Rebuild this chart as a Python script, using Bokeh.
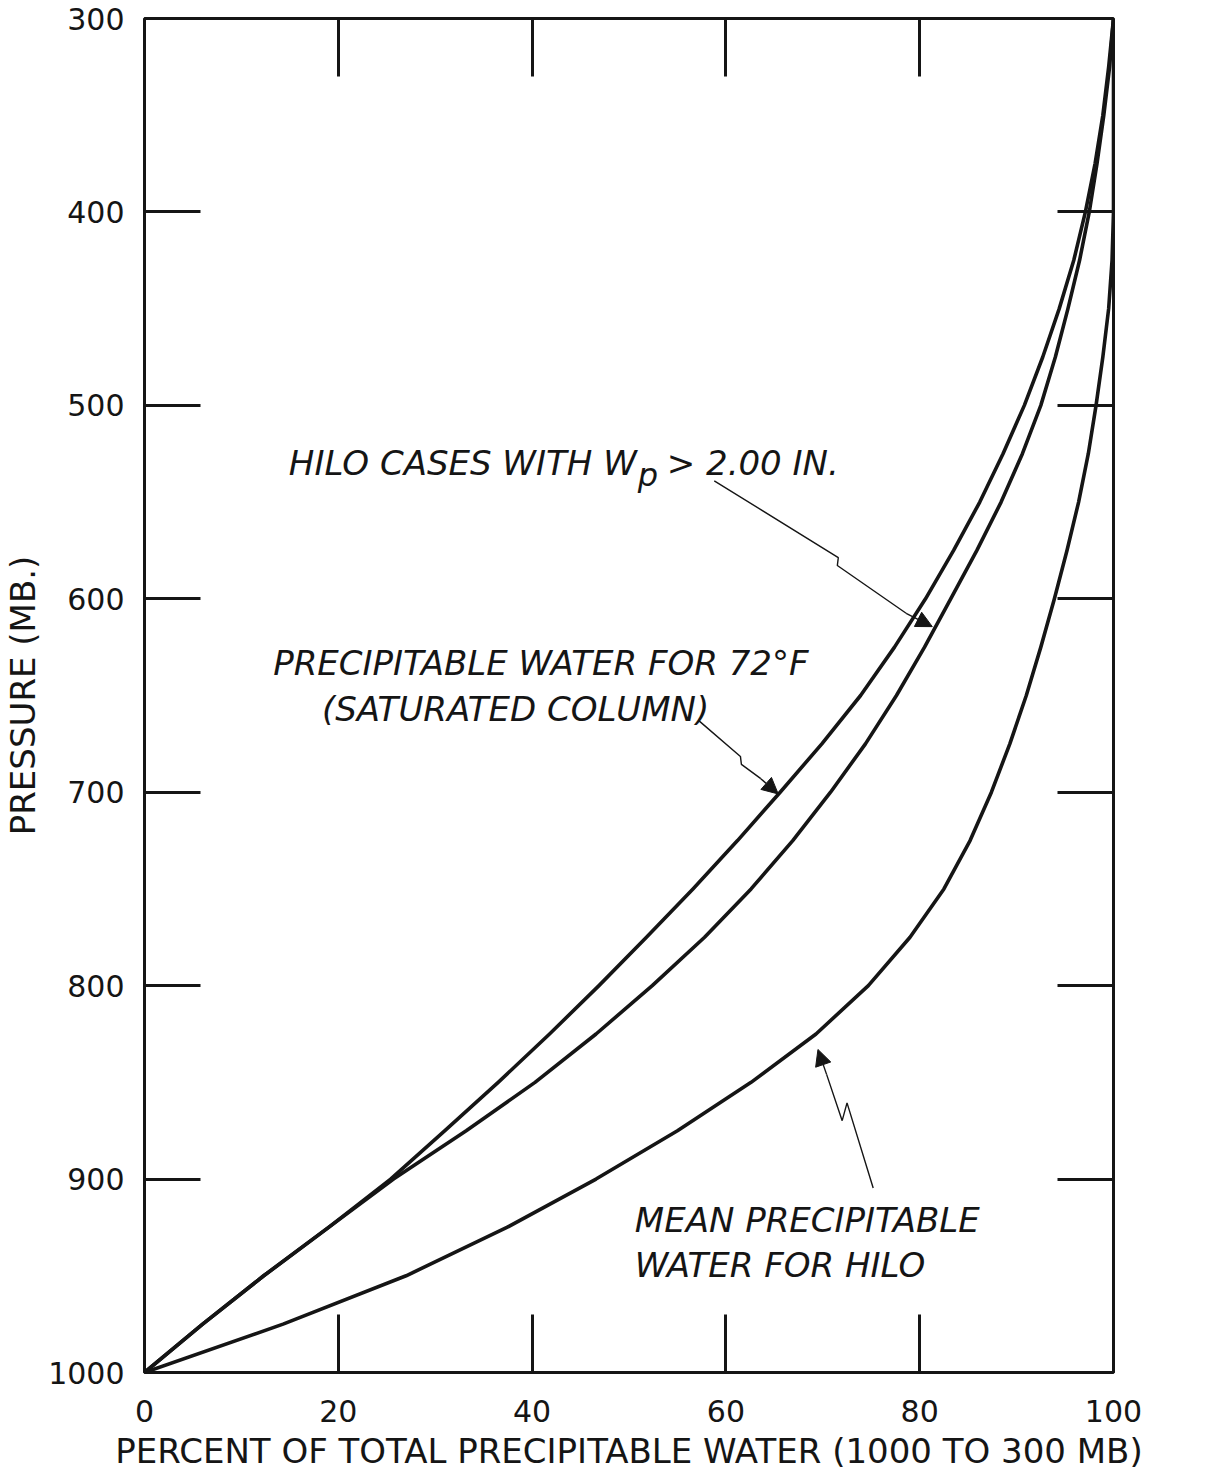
from bokeh.plotting import figure
from bokeh.models import (Range1d, LinearAxis, FixedTicker, CustomJSTickFormatter,
                          Label, Arrow, NormalHead)
from bokeh.embed import file_html
from bokeh.resources import INLINE

# ---------------- data ----------------
pressure_mb = [1000, 975, 950, 925, 900, 875, 850, 825, 800, 775, 750, 725, 700,
               675, 650, 625, 600, 575, 550, 525, 500, 475, 450, 425, 400, 375,
               350, 325, 300]

pct_saturated_72F = [0, 6.0, 12.3, 19.0, 25.4, 31.0, 36.5, 41.8, 46.9, 51.8, 56.6,
                     61.2, 65.6, 69.9, 73.9, 77.4, 80.6, 83.5, 86.2, 88.6, 90.8,
                     92.7, 94.4, 95.9, 97.1, 98.1, 98.9, 99.5, 100]

pct_hilo_wp_gt_2in = [0, 6.0, 12.3, 19.0, 25.7, 33.2, 40.3, 46.6, 52.4, 57.8, 62.6,
                      66.9, 70.8, 74.4, 77.6, 80.5, 83.2, 85.9, 88.4, 90.6, 92.5,
                      94.0, 95.3, 96.5, 97.5, 98.3, 99.0, 99.6, 100]

pct_hilo_mean = [0, 14.3, 27.0, 37.4, 46.6, 55.0, 62.6, 69.3, 74.7, 79.0, 82.5,
                 85.2, 87.4, 89.3, 91.0, 92.5, 93.9, 95.2, 96.4, 97.4, 98.2, 98.9,
                 99.5, 99.85, 100, 100, 100, 100, 100]

x_ticks = [0, 20, 40, 60, 80, 100]
x_inner_ticks = [20, 40, 60, 80]
y_ticks = [300, 400, 500, 600, 700, 800, 900, 1000]
y_inner_ticks = [400, 500, 600, 700, 800, 900]

# ---------------- figure ----------------
FONT = "DejaVu Sans"
INK = "#151515"

p = figure(frame_width=969, frame_height=1354,
           x_range=Range1d(0, 100), y_range=Range1d(1000, 300),
           output_backend="svg", toolbar_location=None,
           min_border_left=142, min_border_top=18, min_border_right=55,
           min_border_bottom=90)
p.background_fill_color = "white"
p.border_fill_color = "white"
p.outline_line_color = INK
p.outline_line_width = 3
p.xgrid.visible = False
p.ygrid.visible = False

def style_axis(ax, ticks, tick_in):
    ax.ticker = FixedTicker(ticks=ticks)
    ax.major_tick_in = tick_in
    ax.major_tick_out = 0
    ax.minor_tick_in = 0
    ax.minor_tick_out = 0
    ax.major_tick_line_width = 3
    ax.major_tick_line_color = INK
    ax.axis_line_color = None
    ax.major_label_text_font = FONT
    ax.major_label_text_font_size = "30px"
    ax.major_label_text_color = INK
    ax.axis_label_text_font = FONT
    ax.axis_label_text_font_style = "normal"
    ax.axis_label_text_color = INK

# bottom axis
xa = p.xaxis[0]
style_axis(xa, x_ticks, 58)
xa.major_label_standoff = 27
xa.axis_label = "PERCENT OF TOTAL PRECIPITABLE WATER (1000 TO 300 MB)"
xa.axis_label_text_font_size = "34px"
xa.axis_label_standoff = 6

# left axis
ya = p.yaxis[0]
style_axis(ya, y_ticks, 56)
ya.major_label_standoff = 20
ya.axis_label = "PRESSURE (MB.)"
ya.axis_label_text_font_size = "34px"
ya.axis_label_standoff = 2

# top and right axes: inward ticks only
blank = CustomJSTickFormatter(code="return ''")
top = LinearAxis(formatter=blank)
style_axis(top, x_inner_ticks, 58)
top.major_label_text_font_size = "1px"
top.major_label_standoff = 0
p.add_layout(top, "above")

right = LinearAxis(formatter=blank)
style_axis(right, y_inner_ticks, 56)
right.major_label_text_font_size = "1px"
right.major_label_standoff = 0
p.add_layout(right, "right")

# ---------------- curves ----------------
for series in (pct_saturated_72F, pct_hilo_wp_gt_2in, pct_hilo_mean):
    p.line(series, pressure_mb, line_width=3.6, line_color=INK,
           line_join="round", line_cap="round")

# ---------------- annotations ----------------
def note(text, x, y, align="center", size="34px", x_off=0, y_off=0):
    p.add_layout(Label(x=x, y=y, text=text, text_font=FONT,
                       text_font_style="italic", text_font_size=size,
                       text_color=INK, text_align=align,
                       text_baseline="alphabetic", x_offset=x_off, y_offset=y_off))

WP_X, WP_Y = 50.8, 530
note("HILO CASES WITH W", WP_X, WP_Y, align="right")
note("p", WP_X, WP_Y, align="left", size="32px", x_off=1, y_off=-12)
note("> 2.00 IN.", WP_X, WP_Y, align="left", x_off=30)

note("PRECIPITABLE WATER FOR 72\u00b0F", 40.9, 633)
note("(SATURATED COLUMN)", 38.3, 657)

note("MEAN PRECIPITABLE", 50.6, 921, align="left")
note("WATER FOR HILO", 50.6, 944.5, align="left")

# leader lines with a small zig-zag, ending in arrow heads
leaders = [
    # (polyline x, polyline y, arrow head start, arrow tip)
    ([58.8, 71.6, 71.5, 78.6], [539, 578.7, 582.8, 607.5], (78.6, 607.5), (81.3, 614.4)),
    ([57.2, 61.5, 61.6, 63.6], [663, 681.5, 685.6, 693.0], (63.6, 693.0), (65.4, 700.9)),
    ([75.2, 72.5, 72.0, 70.4], [904.6, 860.6, 869.8, 846.0], (70.4, 846.0), (69.5, 833.0)),
]
for lx, ly, (sx, sy), (ex, ey) in leaders:
    p.line(lx, ly, line_width=1.4, line_color=INK)
    p.add_layout(Arrow(end=NormalHead(size=16, fill_color=INK, line_color=INK,
                                      line_width=1),
                       x_start=sx, y_start=sy, x_end=ex, y_end=ey,
                       line_width=1.4, line_color=INK))

open("out.html", "w").write(file_html(p, INLINE))
